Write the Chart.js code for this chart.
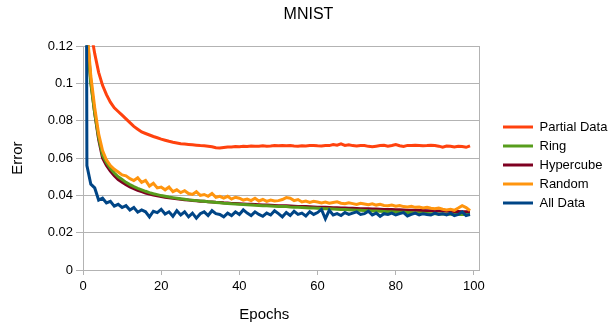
<!DOCTYPE html>
<html>
<head>
<meta charset="utf-8">
<script src="https://cdn.jsdelivr.net/npm/chart.js@4/dist/chart.umd.min.js"></script>
<style>
  body { margin: 0; background: #fff; }
  #myChart { display: block; }
</style>
</head>
<body>
<canvas id="myChart" width="613" height="324"></canvas>
<script>
// epochs 0..99
var epochs = [];
for (let i = 0; i <= 99; i++) { epochs.push(i); }

var partial_data = [0.9, 0.16, 0.128, 0.116, 0.106, 0.099, 0.094, 0.090, 0.087, 0.085,
    0.083, 0.081, 0.079, 0.077, 0.0755, 0.074, 0.0732, 0.0724, 0.0716, 0.0709,
    0.0702, 0.0696, 0.069, 0.0685, 0.0681, 0.0677, 0.0675, 0.0673, 0.0671, 0.0669,
    0.0667, 0.0666, 0.0664, 0.0661, 0.0656, 0.0654, 0.0657, 0.066, 0.0659, 0.0662,
    0.0661, 0.0664, 0.0662, 0.0665, 0.0663, 0.0664, 0.0666, 0.0664, 0.0665, 0.0667,
    0.0666, 0.0668, 0.0666, 0.0667, 0.0665, 0.0664, 0.0666, 0.0665, 0.0667, 0.0668,
    0.0666, 0.0665, 0.0668, 0.0667, 0.0673, 0.0669, 0.0676, 0.0668, 0.0672, 0.0667,
    0.0665, 0.0668, 0.0667, 0.0663, 0.0661, 0.0664, 0.0667, 0.0669, 0.0664, 0.0668,
    0.0673, 0.0666, 0.0662, 0.0668, 0.0667, 0.0669, 0.0668, 0.0666, 0.0667, 0.0669,
    0.0668, 0.0664, 0.0659, 0.0665, 0.0663, 0.0659, 0.0663, 0.0662, 0.0658, 0.0666];

var ring = [0.9, 0.125, 0.100, 0.084, 0.071, 0.0615, 0.0575, 0.0545, 0.052, 0.050,
    0.0485, 0.047, 0.0458, 0.0447, 0.0438, 0.043, 0.0422, 0.0415, 0.0409, 0.0404,
    0.0399, 0.0395, 0.0391, 0.0388, 0.0385, 0.0382, 0.0379, 0.0376, 0.0374, 0.0372,
    0.037, 0.0368, 0.0366, 0.0364, 0.0362, 0.036, 0.0358, 0.0357, 0.0355, 0.0354,
    0.0352, 0.0351, 0.035, 0.0349, 0.0347, 0.0346, 0.0345, 0.0344, 0.0343, 0.0342,
    0.0341, 0.034, 0.0341, 0.0338, 0.0337, 0.0336, 0.0335, 0.0334, 0.0333, 0.0332,
    0.0331, 0.033, 0.0329, 0.0328, 0.0327, 0.0326, 0.0325, 0.0324, 0.0323, 0.0322,
    0.0321, 0.032, 0.0319, 0.0318, 0.0317, 0.0316, 0.0315, 0.0314, 0.0313, 0.0312,
    0.0311, 0.031, 0.0309, 0.0308, 0.0307, 0.0306, 0.0305, 0.0304, 0.0303, 0.0302,
    0.0301, 0.03, 0.03, 0.0299, 0.0299, 0.0298, 0.0298, 0.0297, 0.0297, 0.0296];

var hypercube = [0.9, 0.128, 0.101, 0.084, 0.070, 0.060, 0.056, 0.053, 0.0505, 0.0485,
    0.047, 0.0458, 0.0446, 0.0436, 0.0427, 0.042, 0.0413, 0.0407, 0.0402, 0.0398,
    0.0394, 0.039, 0.0387, 0.0384, 0.0382, 0.0379, 0.0377, 0.0375, 0.0373, 0.0371,
    0.0369, 0.0368, 0.0366, 0.0365, 0.0363, 0.0362, 0.036, 0.0359, 0.0357, 0.0356,
    0.0355, 0.0354, 0.0353, 0.0352, 0.0351, 0.035, 0.0349, 0.0348, 0.0347, 0.0346,
    0.0345, 0.0344, 0.0344, 0.0343, 0.0342, 0.0341, 0.034, 0.034, 0.0339, 0.0338,
    0.0337, 0.0337, 0.0336, 0.0335, 0.0334, 0.0334, 0.0333, 0.0332, 0.0331, 0.0331,
    0.033, 0.0329, 0.0329, 0.0328, 0.0327, 0.0327, 0.0326, 0.0325, 0.0325, 0.0324,
    0.0323, 0.0323, 0.0322, 0.0321, 0.0321, 0.032, 0.0319, 0.0319, 0.0318, 0.0318,
    0.0317, 0.0316, 0.0316, 0.0315, 0.0315, 0.0314, 0.0314, 0.0313, 0.0313, 0.0312];

var random_data = [0.9, 0.13, 0.104, 0.087, 0.073, 0.064, 0.059, 0.056, 0.054, 0.0525,
    0.051, 0.0505, 0.049, 0.048, 0.0495, 0.047, 0.048, 0.045, 0.0465, 0.044,
    0.0445, 0.043, 0.0445, 0.042, 0.043, 0.0415, 0.0425, 0.041, 0.0405, 0.042,
    0.04, 0.0405, 0.0395, 0.041, 0.039, 0.0395, 0.0385, 0.0395, 0.038, 0.039,
    0.0385, 0.0375, 0.038, 0.0372, 0.0385, 0.037, 0.0378, 0.0368, 0.0375, 0.037,
    0.0372, 0.0378, 0.0388, 0.0385, 0.0372, 0.0378, 0.0365, 0.037, 0.0362, 0.0368,
    0.0365, 0.036, 0.0364, 0.0358, 0.0362, 0.0366, 0.0358, 0.0355, 0.036, 0.0356,
    0.0352, 0.0358, 0.0354, 0.035, 0.0355, 0.0348, 0.0352, 0.0346, 0.0344, 0.0348,
    0.0342, 0.0346, 0.034, 0.0338, 0.0342, 0.0336, 0.0338, 0.0333, 0.0336, 0.0331,
    0.0328, 0.0332, 0.0326, 0.0322, 0.0325, 0.032, 0.0332, 0.0345, 0.0335, 0.0318];

var all_data = [0.9, 0.056, 0.046, 0.044, 0.0375, 0.0385, 0.036, 0.0368, 0.0342, 0.0352,
    0.0335, 0.0345, 0.0322, 0.0335, 0.031, 0.0322, 0.0312, 0.0285, 0.0315, 0.0308,
    0.0325, 0.03, 0.0312, 0.0288, 0.0318, 0.0295, 0.0312, 0.0285, 0.0305, 0.0278,
    0.0302, 0.0312, 0.0292, 0.0318, 0.0302, 0.0298, 0.0285, 0.0305, 0.0292, 0.0312,
    0.0298, 0.0322, 0.0305, 0.0292, 0.0312, 0.0298, 0.0288, 0.0305, 0.0295, 0.0318,
    0.0302, 0.0285, 0.0308, 0.0292, 0.0315, 0.0298, 0.0305, 0.029, 0.0312, 0.0298,
    0.0308, 0.0325, 0.0275, 0.032, 0.0295, 0.0302, 0.0292, 0.0308, 0.0298, 0.0305,
    0.0312, 0.0298, 0.0302, 0.0315, 0.0295, 0.0305, 0.0288, 0.0302, 0.0298, 0.0305,
    0.0295, 0.0302, 0.0308, 0.029, 0.0298, 0.0305, 0.0295, 0.0302, 0.0298, 0.0295,
    0.0305, 0.0298, 0.0302, 0.0295, 0.0305, 0.0292, 0.0298, 0.0312, 0.0292, 0.0298];

var series_names = ["Partial Data", "Ring", "Hypercube", "Random", "All Data"];
var series_colors = ["#ff420e", "#579d1c", "#7e0021", "#ff950e", "#004586"];
var series_values = [partial_data, ring, hypercube, random_data, all_data];
// later series drawn on top, legend keeps original order
var draw_order = [4, 2, 3, 1, 0];

var y_ticks = [0, 0.02, 0.04, 0.06, 0.08, 0.1, 0.12];
var x_ticks = [0, 20, 40, 60, 80, 100];

function toPoints(values){
    return values.map(function(v, i){ return {x: epochs[i], y: v}; });
}

var datasets = [];
for (let i = 0; i < series_names.length; i++) {
    datasets.push({
        label: series_names[i],
        data: toPoints(series_values[i]),
        borderColor: series_colors[i],
        backgroundColor: series_colors[i],
        borderWidth: 3,
        pointRadius: 0,
        tension: 0,
        fill: false,
        order: draw_order[i],
        clip: 1
    });
}

var font = "'Liberation Sans', Arial, sans-serif";

var graph = new Chart("myChart", {
    type: "line",
    data: { datasets: datasets },
    options: {
        responsive: false,
        animation: false,
        layout: { padding: { left: 4, right: 0, top: 0, bottom: 0 } },
        plugins: {
            title: {
                display: true,
                text: "MNIST",
                color: "#000",
                font: { family: font, size: 16, weight: "normal" },
                padding: { top: 5, bottom: 22 }
            },
            legend: {
                position: "right",
                labels: {
                    color: "#000",
                    font: { family: font, size: 13 },
                    boxWidth: 30,
                    boxHeight: 3,
                    padding: 6,
                    sort: function(a, b){ return a.datasetIndex - b.datasetIndex; },
                    generateLabels: function(chart){
                        return chart.data.datasets.map(function(ds, i){
                            return {
                                text: ds.label,
                                fillStyle: ds.borderColor,
                                strokeStyle: ds.borderColor,
                                lineWidth: 0,
                                datasetIndex: i
                            };
                        });
                    }
                }
            },
            tooltip: { enabled: false }
        },
        scales: {
            x: {
                type: "linear",
                min: 0,
                max: 101.3,
                afterBuildTicks: function(scale){
                    scale.ticks = x_ticks.map(function(v){ return {value: v}; });
                },
                afterFit: function(scale){ scale.height = 54; },
                ticks: { color: "#000", font: { family: font, size: 13 }, padding: 4, maxRotation: 0 },
                grid: { drawOnChartArea: false, drawTicks: true, tickLength: 5, color: "#b3b3b3" },
                border: { display: true, color: "#b3b3b3" },
                title: { display: true, text: "Epochs\u00a0\u00a0\u00a0\u00a0\u00a0\u00a0\u00a0\u00a0", color: "#000", font: { family: font, size: 15 }, padding: { top: 0, bottom: 0 } }
            },
            y: {
                min: 0,
                max: 0.12,
                afterBuildTicks: function(scale){
                    scale.ticks = y_ticks.map(function(v){ return {value: v}; });
                },
                afterFit: function(scale){ scale.width = 79; },
                ticks: {
                    color: "#000",
                    font: { family: font, size: 13 },
                    padding: 3,
                    callback: function(v){ return String(+v.toFixed(2)); }
                },
                grid: { color: "#b3b3b3", tickLength: 7 },
                border: { display: true, color: "#b3b3b3" },
                title: { display: true, text: "Error", color: "#000", font: { family: font, size: 15 }, padding: { top: 5, bottom: 0 } }
            },
            y2: {
                position: "right",
                min: 0,
                max: 1,
                afterFit: function(scale){ scale.width = 18; },
                ticks: { display: false },
                grid: { drawOnChartArea: false, drawTicks: false },
                border: { display: true, color: "#b3b3b3" }
            }
        }
    }
});

// fixed legend width so the long label is not cut, nudged down a little
var legend_fit = graph.legend.fit;
graph.legend.fit = function(){
    legend_fit.call(this);
    this.width = 116;
};
var legend_draw = graph.legend.draw;
graph.legend.draw = function(){
    var ctx = this.ctx;
    ctx.save();
    ctx.translate(0, 3);
    legend_draw.call(this);
    ctx.restore();
};
graph.update();
</script>
</body>
</html>
